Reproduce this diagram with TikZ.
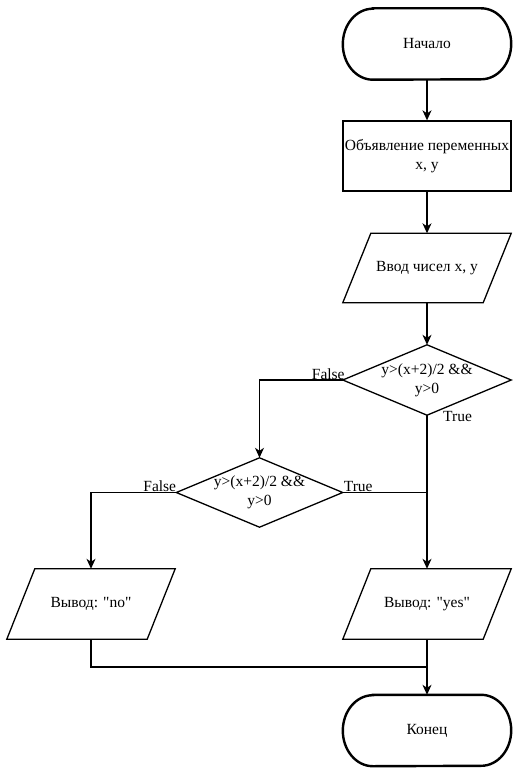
\documentclass[tikz,border=0pt]{standalone}
\usepackage{fontspec}
\setmainfont{Liberation Serif}
\usetikzlibrary{arrows.meta,calc}
\tikzset{
  base/.style={minimum width=168pt, minimum height=70pt, inner sep=0pt, align=center, font=\fontsize{15.5}{19}\selectfont},
  box/.style={base, draw, line width=1.3pt},
  outl/.style={line width=1.3pt},
  termline/.style={line width=2.4pt},
  flow/.style={line width=1.3pt, -{Stealth[length=10pt,width=9pt,inset=3pt]}},
  plainline/.style={line width=1.3pt},
  lbl/.style={inner sep=0pt, font=\fontsize{15.5}{19}\selectfont}
}
\newcommand{\termdraw}[1]{%
  \draw[termline] ([xshift=30pt]#1.north west) -- ([xshift=-30pt]#1.north east)
    arc[start angle=90,end angle=-90,x radius=30pt,y radius=35.5pt]
    -- ([xshift=30pt]#1.south west)
    arc[start angle=270,end angle=90,x radius=30pt,y radius=35.5pt] -- cycle;}
\newcommand{\pgramdraw}[1]{%
  \draw[outl] ([xshift=28pt]#1.north west) -- (#1.north east) -- ([xshift=-28pt]#1.south east) -- (#1.south west) -- cycle;}
\newcommand{\diadraw}[1]{%
  \draw[outl] (#1.north) -- (#1.east) -- (#1.south) -- (#1.west) -- cycle;}
\begin{document}
\begin{tikzpicture}[x=1pt,y=-1pt]
\useasboundingbox (0,0) rectangle (523,773);
\node[base, minimum height=71pt] (start) at (427,44) {Начало};
\node[box] (decl) at (427,156) {Объявление переменных\\x, y};
\node[base, minimum height=69pt] (input) at (427,268) {Ввод чисел x, y};
\node[base] (d1) at (427,380) {y>(x+2)/2 \&\&\\y>0};
\node[base, minimum width=166pt, minimum height=69pt] (d2) at (259.5,492.5) {y>(x+2)/2 \&\&\\y>0};
\node[base] (no) at (91,604) {Вывод: \textquotedbl no\textquotedbl};
\node[base] (yes) at (427,604) {Вывод: \textquotedbl yes\textquotedbl};
\node[base, minimum height=71pt] (end) at (427,730.5) {Конец};
\termdraw{start}
\termdraw{end}
\pgramdraw{input}
\pgramdraw{no}
\pgramdraw{yes}
\diadraw{d1}
\diadraw{d2}
\coordinate (j) at (427,667);
\draw[flow] (start) -- (decl);
\draw[flow] (decl) -- (input);
\draw[flow] (input) -- (d1);
\draw[flow] (d1.west) -| (d2.north);
\draw[flow] (d1.south) -- (yes.north);
\draw[plainline] (d2.east) -- (d2.east -| yes.north);
\draw[flow] (d2.west) -| (no.north);
\draw[plainline] (no.south) |- (j);
\draw[flow] (yes.south) -- (end.north);
\node[lbl, anchor=base east] (f1) at ([xshift=2pt,yshift=1pt]d1.west) {False};
\node[lbl, anchor=base west] (t1) at ([xshift=16pt,yshift=-6pt]d1.south) {True};
\node[lbl, anchor=base east] (f2) at ([xshift=0pt,yshift=1.5pt]d2.west) {False};
\node[lbl, anchor=base west] (t2) at ([xshift=1pt,yshift=1.5pt]d2.east) {True};
\end{tikzpicture}
\end{document}
